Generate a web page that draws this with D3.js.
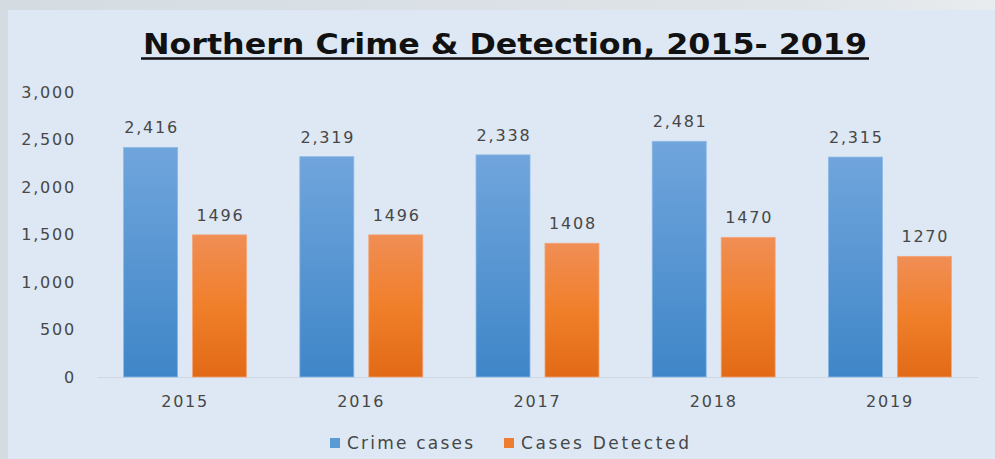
<!DOCTYPE html>
<html>
<head>
<meta charset="utf-8">
<script src="https://cdn.jsdelivr.net/npm/d3@7"></script>
<style>
  body { margin: 0; background: #d2d9df; }
  svg { display: block; font-family: "DejaVu Sans", sans-serif; }
</style>
</head>
<body>
<svg id="chart" width="995" height="459"></svg>
<script>
// data
var years = ["2015", "2016", "2017", "2018", "2019"];
var crimeCases = [2416, 2319, 2338, 2481, 2315];
var casesDetected = [1496, 1496, 1408, 1470, 1270];
var crimeLabels = ["2,416", "2,319", "2,338", "2,481", "2,315"];
var detectedLabels = ["1496", "1496", "1408", "1470", "1270"];
var seriesNames = ["Crime cases", "Cases Detected"];
var yTicks = [0, 500, 1000, 1500, 2000, 2500, 3000];

var svg = d3.select("#chart");
var width = 995, height = 459;
var textColor = "#474747";

// gradients for bars
var defs = svg.append("defs");
var gBlue = defs.append("linearGradient").attr("id", "gBlue")
    .attr("x1", 0).attr("y1", 0).attr("x2", 0).attr("y2", 1);
gBlue.append("stop").attr("offset", "0%").attr("stop-color", "#70a5dc");
gBlue.append("stop").attr("offset", "100%").attr("stop-color", "#3f86c8");
var gOrange = defs.append("linearGradient").attr("id", "gOrange")
    .attr("x1", 0).attr("y1", 0).attr("x2", 0).attr("y2", 1);
gOrange.append("stop").attr("offset", "0%").attr("stop-color", "#f08e55");
gOrange.append("stop").attr("offset", "50%").attr("stop-color", "#f07f2a");
gOrange.append("stop").attr("offset", "100%").attr("stop-color", "#e26a16");
var bgGrad = defs.append("linearGradient").attr("id", "bgGrad")
    .attr("x1", 0).attr("y1", 0).attr("x2", 1).attr("y2", 0);
bgGrad.append("stop").attr("offset", "0%").attr("stop-color", "#d4dce2");
bgGrad.append("stop").attr("offset", "80%").attr("stop-color", "#dfe4e8");
bgGrad.append("stop").attr("offset", "100%").attr("stop-color", "#e8ecef");

// outer background + panel
svg.append("rect").attr("width", width).attr("height", height).attr("fill", "url(#bgGrad)");
svg.append("rect").attr("x", 8).attr("y", 10).attr("width", width - 8).attr("height", height - 10)
    .attr("fill", "#dde8f4");

// title
svg.append("text")
    .attr("x", 505).attr("y", 54)
    .attr("text-anchor", "middle")
    .attr("textLength", 724)
    .attr("lengthAdjust", "spacingAndGlyphs")
    .style("font-size", "29px")
    .style("font-weight", "bold")
    .style("fill", "#111")
    .text("Northern Crime & Detection, 2015- 2019");
svg.append("line")
    .attr("x1", 141).attr("x2", 869).attr("y1", 58.5).attr("y2", 58.5)
    .attr("stroke", "#111").attr("stroke-width", 2.5);

// scales
var x0 = d3.scaleBand().domain(years).range([97, 978]).padding(0);
var x1 = d3.scaleBand().domain(seriesNames).range([0, x0.bandwidth()])
    .paddingInner(0.217).paddingOuter(0.386);
var y = d3.scaleLinear().domain([0, 3000]).range([377, 92]);

function numStyle(sel) {
    sel.style("font-size", "16px")
        .style("fill", textColor)
        .style("font-family", "DejaVu Sans, sans-serif")
        .style("letter-spacing", "1.8px");
}

// y axis labels
var yAxis = svg.append("g")
    .attr("transform", "translate(76,0)")
    .call(d3.axisLeft(y).tickValues(yTicks).tickSize(0).tickPadding(0).tickFormat(d3.format(",")));
yAxis.select(".domain").remove();
yAxis.selectAll("text").call(numStyle);

// x axis
var xAxis = svg.append("g")
    .attr("transform", "translate(0,377)")
    .call(d3.axisBottom(x0).tickSize(0).tickPadding(19));
xAxis.select(".domain").attr("stroke", "#cfd8e2").attr("stroke-width", 1);
xAxis.selectAll("text").call(numStyle);

// bars
var series = [
    { name: seriesNames[0], values: crimeCases, labels: crimeLabels, fill: "url(#gBlue)", stroke: "#8ab8e6", key: "#5b9bd5" },
    { name: seriesNames[1], values: casesDetected, labels: detectedLabels, fill: "url(#gOrange)", stroke: "#f4a475", key: "#ed7d31" }
];

series.forEach(function(s) {
    var g = svg.append("g");
    g.selectAll("rect")
        .data(years)
        .enter()
        .append("rect")
        .attr("x", function(d) { return x0(d) + x1(s.name); })
        .attr("y", function(d, i) { return y(s.values[i]); })
        .attr("width", x1.bandwidth())
        .attr("height", function(d, i) { return y(0) - y(s.values[i]); })
        .attr("fill", s.fill)
        .attr("stroke", s.stroke)
        .attr("stroke-width", 0.8);

    g.selectAll("text")
        .data(years)
        .enter()
        .append("text")
        .attr("x", function(d) { return x0(d) + x1(s.name) + x1.bandwidth() / 2 + 1; })
        .attr("y", function(d, i) { return y(s.values[i]) - 14; })
        .attr("text-anchor", "middle")
        .call(numStyle)
        .text(function(d, i) { return s.labels[i]; });
}); //foreach series

// legend
var legendX = [330, 504];
var legendW = [126, 168];
var legend = svg.selectAll(".legend")
    .data(series)
    .enter()
    .append("g")
    .attr("class", "legend")
    .attr("transform", function(d, i) { return "translate(" + legendX[i] + ",443)"; });
legend.append("rect")
    .attr("x", 0).attr("y", -5).attr("width", 10).attr("height", 10)
    .attr("fill", function(d) { return d.key; });
legend.append("text")
    .attr("x", 17).attr("y", 6)
    .attr("textLength", function(d, i) { return legendW[i]; })
    .attr("lengthAdjust", "spacing")
    .style("font-size", "17px")
    .style("fill", textColor)
    .text(function(d) { return d.name; });
</script>
</body>
</html>
